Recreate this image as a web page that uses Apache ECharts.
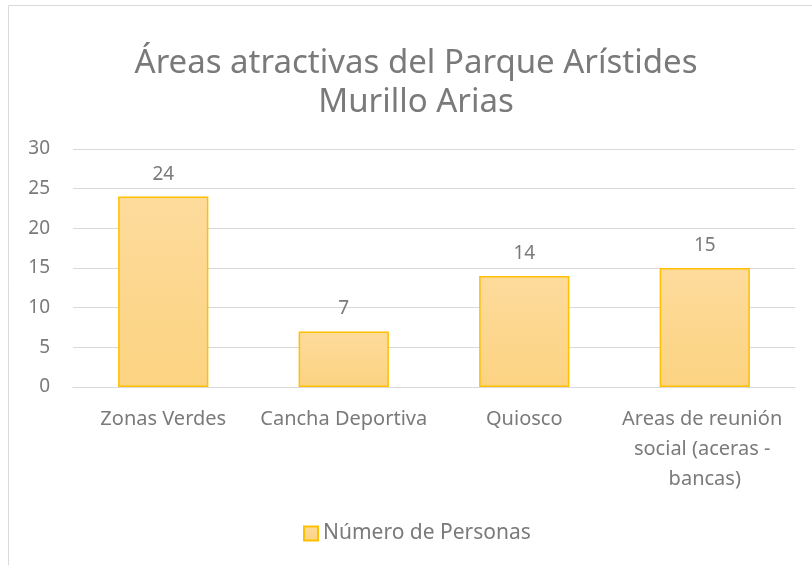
<!DOCTYPE html>
<html lang="es" style="height: 100%">
<head>
  <meta charset="UTF-8">
  <title>Áreas atractivas</title>
</head>
<body style="height: 100%; margin: 0; background: #fff">
<div id="container" style="width: 812px; height: 565px"></div>
<script type="text/javascript" src="https://cdn.jsdelivr.net/npm/echarts@6/dist/echarts.min.js"></script>
<script type="text/javascript">
  var categories = ['Zonas Verdes', 'Cancha Deportiva', 'Quiosco', 'Areas de reunión social (aceras - bancas)'];
  var personas = [24, 7, 14, 15];
  var yTicks = [0, 5, 10, 15, 20, 25, 30];

  var textGray = '#7a7a7a';
  var fontFam = '"Noto Sans", "Open Sans", sans-serif';

  var dom = document.getElementById('container');
  var myChart = echarts.init(dom, null, { renderer: 'canvas' });

  var barFill = new echarts.graphic.LinearGradient(0, 0, 0, 1, [
    { offset: 0, color: '#fddb9c' },
    { offset: 1, color: '#fcd381' }
  ]);

  var option = {
    animation: false,
    textStyle: { fontFamily: fontFam },
    graphic: [
      {
        type: 'rect',
        shape: { x: 8.5, y: 5.5, width: 900, height: 700 },
        style: { fill: null, stroke: '#d9d9d9', lineWidth: 1 },
        silent: true
      }
    ],
    title: {
      text: 'Áreas atractivas del Parque Arístides\nMurillo Arias',
      left: 411,
      textAlign: 'center',
      top: 39,
      textStyle: {
        color: textGray,
        fontSize: 33,
        fontWeight: 'normal',
        lineHeight: 39,
        fontFamily: fontFam
      }
    },
    legend: {
      bottom: 16,
      left: 298,
      itemWidth: 14,
      itemHeight: 14,
      itemGap: 5,
      textStyle: { color: textGray, fontSize: 21 },
      data: [{ name: 'Número de Personas', icon: 'rect' }]
    },
    grid: {
      left: 73,
      right: 17,
      top: 149,
      bottom: 178
    },
    xAxis: {
      type: 'category',
      data: categories,
      axisTick: { show: false },
      axisLine: { lineStyle: { color: '#d9d9d9', width: 1 } },
      axisLabel: {
        interval: 0,
        color: textGray,
        fontSize: 20,
        lineHeight: 30,
        margin: 17,
        width: 175,
        overflow: 'break'
      }
    },
    yAxis: {
      type: 'value',
      min: yTicks[0],
      max: yTicks[yTicks.length - 1],
      interval: 5,
      axisLine: { show: false },
      axisTick: { show: false },
      splitLine: { lineStyle: { color: '#d9d9d9', width: 1 } },
      axisLabel: { color: textGray, fontSize: 19, margin: 23 }
    },
    series: [
      {
        name: 'Número de Personas',
        type: 'bar',
        barWidth: '50%',
        data: personas,
        itemStyle: {
          color: barFill,
          borderColor: '#ffc000',
          borderWidth: 1.5
        },
        label: {
          show: true,
          position: 'top',
          distance: 13,
          color: textGray,
          fontSize: 19
        }
      }
    ]
  };

  myChart.setOption(option);
  window.addEventListener('resize', myChart.resize);
</script>
</body>
</html>
